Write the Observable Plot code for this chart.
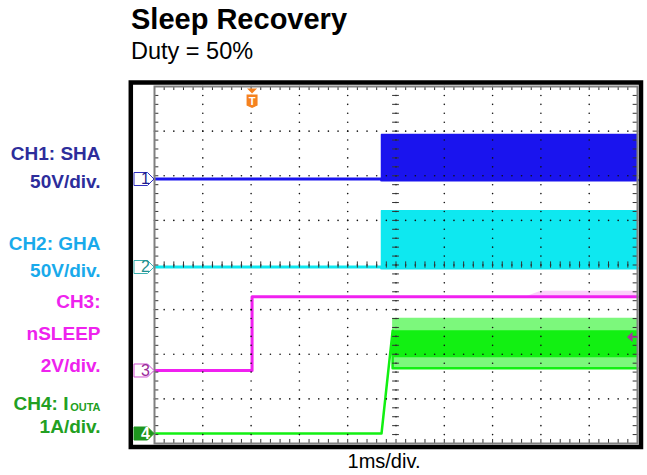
<!DOCTYPE html>
<html><head><meta charset="utf-8">
<script src="https://cdn.jsdelivr.net/npm/d3@7"></script>
<script src="https://cdn.jsdelivr.net/npm/@observablehq/plot@0.6"></script>
<style>
body{margin:0;background:#fff;font-family:"Liberation Sans",Arial,sans-serif;}
#wrap{position:relative;width:647px;height:475px;overflow:hidden}
#hdr{position:relative;height:70px}
.t{position:absolute;left:131px;white-space:nowrap;color:#000}
#title{top:5px;font-size:29px;line-height:29px;font-weight:bold}
#sub{top:40px;font-size:23.5px;line-height:23.5px}
#chart svg{display:block}
</style></head><body>
<div id="wrap"><div id="hdr"><div class="t" id="title"></div><div class="t" id="sub"></div></div><div id="chart"></div></div>
<script>
// ---- text ----
const titleText = "Sleep Recovery";
const subtitleText = "Duty = 50%";
const xLabel = "1ms/div.";
const channelIds = ["1", "2", "3", "4"];
const channelLabels = [["CH1: SHA", "50V/div."], ["CH2: GHA", "50V/div."], ["CH3:", "nSLEEP", "2V/div."], ["CH4: I", "1A/div."]];
const ch4Sub = "OUTA";

// ---- scope settings ----
const unitsPerDiv = [50, 50, 2, 1];          // V, V, V, A per division
const groundDiv = [5.927, 3.955, 1.636, 0.224]; // channel zero position (divisions from bottom)
const triggerTime = 2.02;                     // ms
const triggerLevel = 1.5;                     // V on CH3

// ---- waveforms (time in ms; envelope low / high) ----
const ch1Time = [0, 4.70, 4.70, 10];
const ch1Low  = [0, 0, -1, -1];
const ch1High = [0, 0, 50, 50];

const ch2Time = [0, 4.70, 4.70, 10];
const ch2Low  = [0, 0, -1, -1];
const ch2High = [0, 0, 63, 63];

const ch3Time = [0, 2.02, 2.02, 7.7, 8.0, 10];
const ch3Low  = [0, 0, 3.3, 3.3, 3.3, 3.3];
const ch3High = [0, 0, 3.3, 3.3, 3.55, 3.55];

const ch4Time     = [0, 4.70, 4.93, 4.93, 10];
const ch4Low      = [0, 0, 2.3, 1.46, 1.46];
const ch4High     = [0, 0, 2.3, 2.58, 2.58];
const ch4CoreLow  = [0, 0, 2.3, 1.7, 1.7];
const ch4CoreHigh = [0, 0, 2.3, 2.3, 2.3];

document.getElementById("title").textContent = titleText;
document.getElementById("sub").textContent = subtitleText;

function build(time, lo, hi, k) {
  return time.map((t, i) => ({t, lo: groundDiv[k] + lo[i] / unitsPerDiv[k], hi: groundDiv[k] + hi[i] / unitsPerDiv[k]}));
}
const s1 = build(ch1Time, ch1Low, ch1High, 0);
const s2 = build(ch2Time, ch2Low, ch2High, 1);
const s3 = build(ch3Time, ch3Low, ch3High, 2);
const s4 = build(ch4Time, ch4Low, ch4High, 3);
const s4c = build(ch4Time, ch4CoreLow, ch4CoreHigh, 3);

const col = {c1: "#1a14ee", c2: "#0ee8f0", c3: "#f020f0", c3l: "#fbd0fb", c4: "#12f012", c4l: "#7cf87c"};

// graticule helpers
const gx = d3.range(0, 50.5).map(i => i * 0.2);
const gy = d3.range(0, 40.5).map(i => i * 0.2);
const gdots = [];
for (let i = 1; i < 10; i++) for (const y of gy) gdots.push({x: i, y});
for (let j = 1; j < 8; j++) for (const x of gx) gdots.push({x, y: j});

const pent = {draw(c) { c.moveTo(-20.5, -6.5); c.lineTo(-7, -6.5); c.lineTo(-0.5, 0); c.lineTo(-7, 6.5); c.lineTo(-20.5, 6.5); c.closePath(); }};
const trig = {draw(c) {
  c.moveTo(-5, 2); c.lineTo(5, 2); c.lineTo(0, 7); c.closePath();
  c.moveTo(-5.5, 8); c.lineTo(5.5, 8); c.lineTo(5.5, 19); c.lineTo(0, 21.5); c.lineTo(-5.5, 19); c.closePath();
}};
const arrowL = {draw(c) { c.moveTo(-10.5, 0); c.lineTo(-5, -5); c.lineTo(-5, 5); c.closePath(); c.rect(-5, -0.8, 5, 1.6); }};

const markerStyle = [
  {fill: "#fff", stroke: "#3030c0", text: "#1c1c8c"},
  {fill: "#fff", stroke: "#3cb0b0", text: "#1f9090"},
  {fill: "#fff", stroke: "#d050d0", text: "#992a99"},
  {fill: "#1e961e", stroke: "#1e961e", text: "#fff"}
];
const labelColors = ["#2d2d9b", "#19aaeb", "#ee22ee", "#22a022"];
// label layout: caps centre in px below top of graticule
const labelCentres = [[67.7, 95.7], [157.7, 184], [215.7, 247.3, 279], [317.7, 340]];

const marks = [
  Plot.frame({stroke: "#000", strokeWidth: 4.5, insetLeft: -23.7, insetTop: -4, insetRight: -3.5, insetBottom: -3.5}),
  // traces
  Plot.areaY(s1, {x: "t", y1: "lo", y2: "hi", fill: col.c1}),
  Plot.line(s1, {x: "t", y: "lo", stroke: col.c1, strokeWidth: 3}),
  Plot.line(s1, {x: "t", y: "hi", stroke: col.c1, strokeWidth: 1.5}),
  Plot.areaY(s2, {x: "t", y1: "lo", y2: "hi", fill: col.c2}),
  Plot.line(s2, {x: "t", y: "lo", stroke: col.c2, strokeWidth: 3}),
  Plot.line(s2, {x: "t", y: "hi", stroke: col.c2, strokeWidth: 1.5}),
  Plot.areaY(s3, {x: "t", y1: "lo", y2: "hi", fill: col.c3l}),
  Plot.line(s3, {x: "t", y: "lo", stroke: col.c3, strokeWidth: 3}),
  Plot.areaY(s4, {x: "t", y1: "lo", y2: "hi", fill: col.c4l}),
  Plot.areaY(s4c, {x: "t", y1: "lo", y2: "hi", fill: col.c4}),
  Plot.line(s4, {x: "t", y: "lo", stroke: col.c4, strokeWidth: 2.5}),
  // graticule on top
  Plot.dot(gdots, {x: "x", y: "y", r: 0.8, fill: "#111", stroke: null}),
  Plot.ruleY(gy, {y: d => d, x1: 4.93, x2: 5.07, stroke: "#333", strokeWidth: 1}),
  Plot.ruleX(gx, {x: d => d, y1: 3.93, y2: 4.07, stroke: "#333", strokeWidth: 1}),
  Plot.ruleX(gx, {x: d => d, y1: 8, y2: 7.91, stroke: "#333"}),
  Plot.ruleX(gx, {x: d => d, y1: 0, y2: 0.09, stroke: "#333"}),
  Plot.ruleY(gy, {y: d => d, x1: 0, x2: 0.09, stroke: "#333"}),
  Plot.ruleY(gy, {y: d => d, x1: 9.91, x2: 10, stroke: "#333"}),
  Plot.frame({stroke: "#808080", strokeWidth: 2}),
  // trigger marker and level
  Plot.dot([triggerTime], {x: d => d, frameAnchor: "top", symbol: trig, fill: "#f5821f", stroke: null}),
  Plot.text(["T"], {x: () => triggerTime, frameAnchor: "top", dy: 14.5, lineAnchor: "middle", fill: "#fff", fontWeight: "bold", fontSize: 11}),
  Plot.dot([triggerLevel], {y: d => groundDiv[2] + d / unitsPerDiv[2], frameAnchor: "right", symbol: arrowL, fill: "#a8329f", stroke: null}),
  // bottom label
  Plot.text([xLabel], {frameAnchor: "bottom", dx: -12, dy: 24, lineAnchor: "bottom", fontSize: 20, fill: "#000"})
];

channelIds.forEach((id, k) => {
  const st = markerStyle[k];
  marks.push(Plot.dot([groundDiv[k]], {y: d => d, frameAnchor: "left", symbol: pent, fill: st.fill, stroke: st.stroke, strokeWidth: 1}));
  marks.push(Plot.text([id], {y: () => groundDiv[k], frameAnchor: "left", dx: -13.5, lineAnchor: "middle", fill: st.text, fontSize: 16, fontWeight: k === 3 ? "bold" : "normal"}));
  channelLabels[k].forEach((txt, j) => {
    marks.push(Plot.text([txt], {frameAnchor: "top-left", dx: (k === 3 && j === 0) ? -86 : -54, dy: labelCentres[k][j], textAnchor: "end", lineAnchor: "middle", fill: labelColors[k], fontSize: 19, fontWeight: "bold"}));
  });
});
marks.push(Plot.text([ch4Sub], {frameAnchor: "top-left", dx: -54, dy: labelCentres[3][0] + 2.8, textAnchor: "end", lineAnchor: "middle", fill: labelColors[3], fontSize: 11, fontWeight: "bold"}));

const chart = Plot.plot({
  width: 647,
  height: 405,
  marginTop: 16,
  marginBottom: 32,
  marginLeft: 154,
  marginRight: 10,
  style: {fontFamily: "'Liberation Sans', Arial, sans-serif", background: "#fff", overflow: "visible"},
  x: {domain: [0, 10], axis: null},
  y: {domain: [0, 8], axis: null},
  marks
});
document.getElementById("chart").appendChild(chart);
</script>
</body></html>
